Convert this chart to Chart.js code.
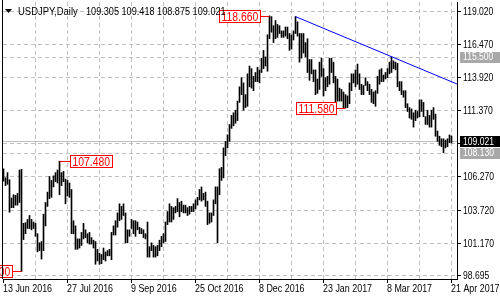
<!DOCTYPE html>
<html>
<head>
<meta charset="utf-8">
<script src="https://cdn.jsdelivr.net/npm/chart.js@4.4.1/dist/chart.umd.min.js"></script>
<style>
  html, body { margin: 0; padding: 0; background: #fff; }
  canvas { display: block; }
</style>
</head>
<body>
<canvas id="usdjpy_Chart" width="500" height="300"></canvas>
<script>
// daily high / low, 13 Jun 2016 .. 21 Apr 2017 (one entry per trading day)
const highs = [
  106.90, 106.20, 106.60, 106.05, 104.65,
  104.90, 104.85, 105.00, 106.80, 106.85,
  102.70, 102.75, 103.00, 103.30, 103.00,
  102.80, 102.70, 101.90, 101.20, 101.30,
  103.40, 104.30, 105.10, 106.30, 106.00,
  106.35, 106.60, 106.80, 107.48, 106.60,
  106.70, 106.10, 106.00, 105.80, 105.30,
  102.90, 102.50, 101.50, 101.50, 102.00,
  102.70, 102.20, 101.90, 102.00, 101.60,
  101.40, 101.30, 100.70, 100.40, 100.30,
  100.80, 100.50, 100.60, 100.70, 102.00,
  102.50, 102.90, 103.50, 104.20, 104.00,
  104.20, 103.50, 102.20, 102.20, 103.00,
  102.90, 102.90, 102.80, 102.40, 102.30,
  102.20, 101.90, 102.80, 100.90, 101.20,
  101.00, 100.90, 101.00, 101.40, 101.70,
  101.90, 102.80, 103.60, 104.20, 104.00,
  103.90, 104.00, 104.60, 104.30, 104.40,
  104.10, 104.10, 103.90, 104.00, 104.00,
  104.20, 104.50, 104.70, 105.30, 105.50,
  105.00, 105.10, 104.40, 103.50, 103.50,
  104.50, 105.50, 105.50, 106.90, 107.00,
  108.50, 109.00, 109.50, 110.30, 111.00,
  111.20, 111.40, 112.10, 113.20, 113.90,
  113.50, 112.60, 114.20, 114.80, 114.60,
  114.00, 114.30, 114.70, 114.50, 115.40,
  116.00, 115.50, 117.20, 118.66, 118.60,
  117.90, 118.30, 118.00, 117.90, 117.50,
  117.50, 117.80, 117.80, 117.30, 117.20,
  117.50, 118.60, 118.20, 117.30, 117.30,
  117.30, 116.60, 116.90, 115.30, 115.30,
  114.50, 114.50, 113.80, 115.10, 115.40,
  114.60, 113.90, 114.00, 115.40, 115.40,
  115.10, 114.00, 113.80, 113.10, 113.00,
  112.80, 112.60, 112.50, 113.50, 114.20,
  114.20, 114.50, 114.95, 114.20, 113.40,
  113.30, 113.90, 113.60, 113.40, 113.00,
  112.80, 112.90, 114.00, 114.50, 114.60,
  114.10, 114.30, 114.60, 115.10, 115.50,
  115.20, 115.10, 115.00, 113.60, 113.60,
  112.90, 112.90, 111.90, 111.60, 111.50,
  111.20, 111.40, 111.30, 112.20, 112.20,
  112.00, 110.90, 111.40, 111.00, 111.40,
  111.60, 111.10, 109.80, 109.40, 109.20,
  109.20, 109.10, 109.20, 109.50, 109.418
];
const lows = [
  105.95, 105.60, 105.70, 103.55, 103.90,
  103.90, 104.10, 104.10, 104.30, 99.00,
  101.45, 101.90, 102.30, 102.30, 102.20,
  102.30, 101.70, 100.50, 100.60, 99.95,
  100.60, 102.50, 104.00, 104.60, 104.70,
  105.50, 105.90, 105.80, 104.90, 105.60,
  105.90, 104.20, 104.80, 104.70, 101.90,
  101.90, 100.70, 100.70, 100.80, 101.00,
  101.50, 101.60, 101.20, 101.10, 101.10,
  100.80, 99.55, 99.80, 99.55, 99.60,
  99.90, 99.80, 100.20, 100.20, 99.90,
  101.80, 101.80, 102.40, 102.90, 103.00,
  103.30, 101.20, 101.20, 101.70, 102.30,
  101.90, 101.70, 102.20, 101.90, 101.90,
  101.60, 101.50, 100.10, 100.10, 100.60,
  100.10, 100.10, 100.20, 100.60, 100.90,
  101.20, 101.30, 102.60, 102.80, 102.80,
  103.00, 103.50, 103.60, 103.20, 103.60,
  103.50, 103.50, 103.30, 103.40, 103.60,
  103.60, 103.80, 104.10, 104.50, 104.40,
  104.50, 104.00, 102.60, 102.70, 102.80,
  103.30, 104.20, 101.20, 104.90, 106.00,
  106.20, 107.90, 108.50, 109.00, 110.00,
  110.20, 110.40, 110.60, 112.00, 112.60,
  111.40, 111.60, 111.70, 113.20, 113.10,
  112.90, 113.60, 113.60, 113.50, 114.30,
  114.60, 114.80, 114.40, 116.90, 117.40,
  116.60, 116.90, 117.00, 117.30, 117.00,
  117.00, 117.10, 116.90, 116.00, 116.10,
  116.80, 117.30, 117.10, 115.10, 115.40,
  115.80, 115.50, 114.30, 113.70, 114.20,
  113.60, 112.60, 112.70, 113.00, 114.00,
  112.50, 112.90, 113.20, 113.40, 114.30,
  113.50, 112.00, 112.10, 112.10, 112.10,
  111.60, 111.58, 111.60, 111.90, 112.90,
  113.50, 113.20, 113.40, 113.00, 112.60,
  112.60, 113.30, 112.90, 112.60, 112.00,
  111.90, 111.70, 112.70, 113.40, 113.60,
  113.60, 113.80, 113.90, 114.20, 114.30,
  114.60, 114.50, 113.20, 112.90, 112.60,
  112.40, 111.60, 111.30, 110.80, 110.70,
  110.10, 110.60, 110.80, 110.90, 111.30,
  110.90, 110.30, 110.30, 110.10, 110.10,
  110.70, 109.40, 109.00, 108.70, 108.60,
  108.13, 108.50, 108.60, 108.90, 108.875
];

const dateLabels = ['13 Jun 2016', '27 Jul 2016', '9 Sep 2016', '25 Oct 2016',
                    '8 Dec 2016', '23 Jan 2017', '8 Mar 2017', '21 Apr 2017'];
const dateIndex = [0, 32, 64, 96, 128, 160, 192, 224];
const priceTicks = [98.695, 101.17, 103.72, 106.27, 108.82, 111.37, 113.92, 116.47, 119.02];

const trendLine = [{ x: 146, y: 118.60 }, { x: 227, y: 113.40 }];

// swing labels: bar index, price, which side of the bar the box sits
const swingIndex = [133, 171, 28, 9];
const swingPrice = [118.66, 111.58, 107.48, 99.00];
const swingSide = ['left', 'left', 'right', 'left'];

// horizontal levels and their axis boxes (bid drawn last, on top)
const levelPrice = [115.50, 108.13, 109.021];
const levelFill = ['#a8a8a8', '#a8a8a8', '#000000'];
const levelDash = [[4, 3], [4, 3], []];

const headerSymbol = 'USDJPY,Daily';
const headerOhlc = [109.305, 109.418, 108.875, 109.021];

const FONT = "'Liberation Sans', Arial, sans-serif";
const GRID = '#c0c0c0';

// MT4 uses a narrow bitmap font, so squeeze the text horizontally
function narrowText(ctx, txt, x, y, sx, align) {
    ctx.save();
    ctx.translate(x, y);
    ctx.scale(sx, 1);
    ctx.textAlign = align || 'left';
    ctx.fillText(txt, 0, 0);
    ctx.restore();
}

const overlay = {
    id: 'overlay',
    beforeDatasetsDraw(chart) {
        const { ctx, chartArea: a, scales: { y } } = chart;
        ctx.save();
        ctx.strokeStyle = GRID;
        ctx.lineWidth = 1;
        levelPrice.forEach((p, k) => {
            const py = Math.round(y.getPixelForValue(p)) + 0.5;
            ctx.setLineDash(levelDash[k]);
            ctx.beginPath();
            ctx.moveTo(a.left, py);
            ctx.lineTo(a.right, py);
            ctx.stroke();
        });
        ctx.restore();
    },
    afterDatasetsDraw(chart) {
        const { ctx, scales: { x, y } } = chart;
        ctx.save();
        ctx.font = '13px ' + FONT;
        ctx.textBaseline = 'middle';
        swingIndex.forEach((idx, k) => {
            const bx = x.getPixelForValue(idx);
            const py = Math.round(y.getPixelForValue(swingPrice[k])) + 0.5;
            const txt = swingPrice[k].toFixed(3);
            const w = Math.round(ctx.measureText(txt).width * 0.8) + 4;
            const left = swingSide[k] === 'left' ? Math.round(bx - 10 - w) + 0.5 : Math.round(bx + 10) + 0.5;
            ctx.strokeStyle = '#ff0000';
            ctx.lineWidth = 1;
            ctx.beginPath();
            if (swingSide[k] === 'left') { ctx.moveTo(left + w, py); ctx.lineTo(bx, py); }
            else { ctx.moveTo(bx, py); ctx.lineTo(left, py); }
            ctx.stroke();
            ctx.fillStyle = '#ffffff';
            ctx.fillRect(left, py - 6, w, 12);
            ctx.strokeRect(left, py - 6, w, 12);
            ctx.fillStyle = '#ff0000';
            narrowText(ctx, txt, left + 2, py + 0.5, 0.8);
        });
        ctx.restore();
    },
    afterDraw(chart) {
        const { ctx, chartArea: a, scales: { x, y } } = chart;
        ctx.save();
        // left frame
        ctx.strokeStyle = '#000';
        ctx.lineWidth = 1;
        ctx.beginPath();
        ctx.moveTo(Math.round(a.left) - 0.5, 0);
        ctx.lineTo(Math.round(a.left) - 0.5, a.bottom);
        ctx.stroke();

        ctx.font = '11px ' + FONT;
        ctx.textBaseline = 'middle';

        // price axis labels
        ctx.fillStyle = '#000';
        priceTicks.forEach(v => {
            narrowText(ctx, v.toFixed(3), a.right + 6, y.getPixelForValue(v) + 0.5, 0.78);
        });

        // boxes on the price axis
        levelPrice.forEach((p, k) => {
            const py = y.getPixelForValue(p);
            ctx.fillStyle = levelFill[k];
            ctx.fillRect(a.right + 3, Math.round(py) - 5, 500 - a.right - 3, 11);
            ctx.fillStyle = '#ffffff';
            narrowText(ctx, p.toFixed(3), a.right + 6, py + 0.5, 0.78);
        });

        // date labels
        ctx.fillStyle = '#000';
        dateIndex.forEach((idx, k) => {
            narrowText(ctx, dateLabels[k], x.getPixelForValue(idx) - 0.5, a.bottom + 10, 0.81);
        });

        // header
        ctx.beginPath();
        ctx.moveTo(5, 9); ctx.lineTo(12, 9); ctx.lineTo(8.5, 13); ctx.closePath();
        ctx.fill();
        narrowText(ctx, headerSymbol, 18, 11.5, 0.86);
        narrowText(ctx, headerOhlc.map(v => v.toFixed(3)).join(' '), 86, 11.5, 0.83);
        ctx.restore();
    }
};

const barData = highs.map((h, i) => ({ x: i, y: [lows[i], h] }));

new Chart(document.getElementById('usdjpy_Chart').getContext('2d'), {
    type: 'bar',
    data: {
        datasets: [{
            type: 'line',
            data: trendLine,
            borderColor: '#0000ff',
            borderWidth: 1,
            pointRadius: 0,
            order: 0
        }, {
            data: barData,
            backgroundColor: '#000000',
            borderWidth: 0,
            barThickness: 1,
            order: 1
        }]
    },
    options: {
        responsive: false,
        devicePixelRatio: 1,
        animation: false,
        layout: { padding: { left: 3, top: 2, right: 0, bottom: 0 } },
        plugins: {
            legend: { display: false },
            tooltip: { enabled: false }
        },
        scales: {
            x: {
                type: 'linear',
                min: -0.25,
                max: 226.75,
                offset: false,
                afterBuildTicks: (scale) => {
                    const t = [];
                    for (let v = 0; v <= 224; v += 16) t.push({ value: v });
                    scale.ticks = t;
                },
                afterFit: (scale) => { scale.height = 21; },
                ticks: { display: false },
                grid: {
                    offset: false,
                    color: (c) => c.tick && c.tick.value === 0 ? 'rgba(0,0,0,0)' : GRID,
                    tickColor: (c) => c.tick && c.tick.value % 32 === 0 ? '#000' : 'rgba(0,0,0,0)',
                    tickLength: 4
                },
                border: { display: true, color: '#000', width: 1, dash: [4, 3] }
            },
            y: {
                position: 'right',
                min: 98.416,
                max: 119.724,
                afterBuildTicks: (scale) => {
                    scale.ticks = priceTicks.map(v => ({ value: v }));
                },
                afterFit: (scale) => { scale.width = 43; },
                ticks: { display: false },
                grid: { color: GRID, tickColor: '#000', tickLength: 4 },
                border: { display: true, color: '#000', width: 1, dash: [4, 3] }
            }
        }
    },
    plugins: [overlay]
});
</script>
</body>
</html>
